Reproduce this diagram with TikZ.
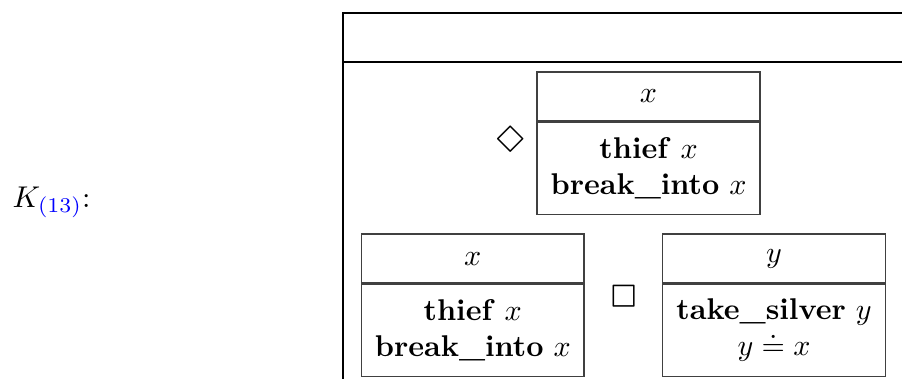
\documentclass[tikz,border=0pt]{standalone}
\usepackage{fontspec}
\usepackage{latexsym}
\usepackage{tikz}

\tikzset{
  drshead/.style={draw=black!75, line width=0.5pt, minimum width=2.61cm, minimum height=0.57cm, inner sep=0pt},
  drsbody/.style={draw=black!75, line width=0.5pt, minimum width=2.61cm, minimum height=1.08cm, inner sep=0pt, align=center},
  drsop/.style={inner sep=0pt, scale=1.3}
}

\begin{document}
\begin{tikzpicture}
  \clip (0,0) rectangle (10.57,4.43);
  % Label
  \node[anchor=base west, inner sep=0pt] (label) at (0.14,2.0) {$K_{\textcolor{blue}{(13)}}$:};
  % Outer frame (runs off the page)
  \draw[line width=0.6pt] (4.02,-0.5) -- (4.02,4.28) -- (11,4.28);
  \draw[line width=0.6pt] (4.02,3.70) -- (11,3.70);
  % Possibility box
  \node[drsop] (dia) at (5.98,2.74) {$\Diamond$};
  \node[drshead] (top-u) at (7.60,3.30) {$x$};
  \node[drsbody, anchor=north] (top-c) at (top-u.south) {\textbf{thief}~$x$\\ \textbf{break\_into}~$x$};
  % Necessity: left box
  \node[drshead] (left-u) at (5.54,1.40) {$x$};
  \node[drsbody, anchor=north] (left-c) at (left-u.south) {\textbf{thief}~$x$\\ \textbf{break\_into}~$x$};
  % Necessity operator
  \node[drsop] (box) at (7.31,0.91) {$\Box$};
  % Necessity: right box
  \node[drshead] (right-u) at (9.07,1.40) {$y$};
  \node[drsbody, anchor=north] (right-c) at (right-u.south) {\textbf{take\_silver}~$y$\\ $y \doteq x$};
\end{tikzpicture}
\end{document}
